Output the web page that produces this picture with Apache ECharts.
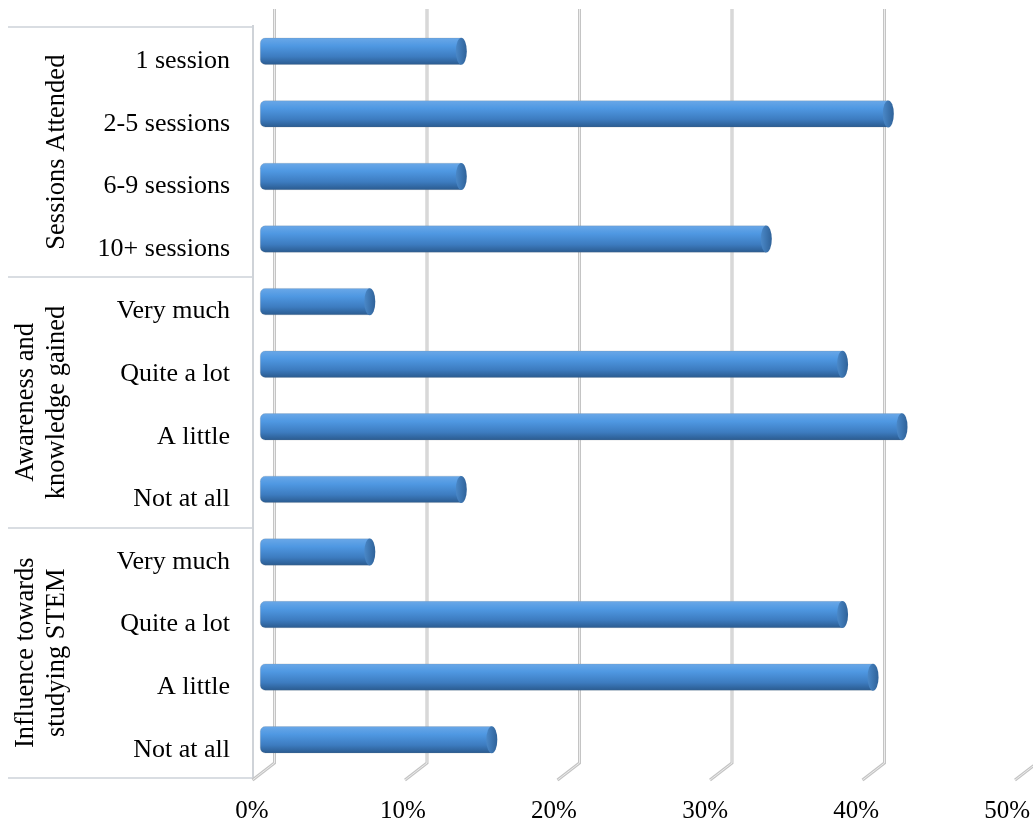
<!DOCTYPE html>
<html>
<head>
<meta charset="utf-8">
<script src="https://cdn.jsdelivr.net/npm/echarts@6/dist/echarts.min.js"></script>
<style>
  html, body { margin: 0; padding: 0; background: #fff; }
  #chart { width: 1033px; height: 825px; }
</style>
</head>
<body>
<div id="chart"></div>
<script>
// categories, top to bottom
const categories = ['1 session', '2-5 sessions', '6-9 sessions', '10+ sessions',
    'Very much', 'Quite a lot', 'A little', 'Not at all',
    'Very much', 'Quite a lot', 'A little', 'Not at all'];
// group captions (4 categories each)
const groups = ['Sessions Attended', 'Awareness and\nknowledge gained', 'Influence towards\nstudying STEM'];
// percentages
const values = [13.2, 41.2, 13.2, 33.2, 7.2, 38.2, 42.1, 13.2, 7.2, 38.2, 40.2, 15.2];
// axis ticks
const ticks = [0, 10, 20, 30, 40, 50];

const FONT = 'Liberation Serif';
let chart = echarts.init(document.getElementById('chart'));

// cylinder body
let barGrad = new echarts.graphic.LinearGradient(0, 0, 0, 1, [
    { offset: 0, color: '#6aa8e8' },
    { offset: 0.3, color: '#4f98e2' },
    { offset: 0.7, color: '#3d7cc0' },
    { offset: 1, color: '#2a5a8e' }
]);
let capGrad = new echarts.graphic.LinearGradient(0, 0, 1, 0, [
    { offset: 0, color: '#4a88c8' },
    { offset: 1, color: '#2f6299' }
]);

// table lines on the left + group captions
let graphics = [];
[27, 277, 528, 778].forEach(function (y) {
    graphics.push({
        type: 'line', shape: { x1: 8, y1: y, x2: 253, y2: y },
        style: { stroke: '#d9dde2', lineWidth: 2 }, z: 1
    });
});
graphics.push({
    type: 'line', shape: { x1: 253, y1: 25, x2: 253, y2: 780 },
    style: { stroke: '#cfd3d8', lineWidth: 2 }, z: 1
});
groups.forEach(function (g, i) {
    graphics.push({
        type: 'text',
        x: 42 + (g.indexOf('\n') < 0 ? 15 : 0),
        y: 27 + 250.3 * (i + 0.5),
        rotation: Math.PI / 2,
        style: {
            text: g, font: '26.5px "' + FONT + '"', fill: '#000',
            align: 'center', verticalAlign: 'middle', lineHeight: 31
        }
    });
});

let option = {
    animation: false,
    backgroundColor: '#fff',
    grid: [
        { left: 252, width: 762.5, top: 30, height: 751 },   // labels (front plane)
        { left: 260, width: 762.5, top: 20, height: 751 }    // bars
    ],
    xAxis: [
        {
            gridIndex: 0, type: 'value', min: 0, max: 50, interval: 10,
            axisLine: { show: false }, axisTick: { show: false }, splitLine: { show: false },
            axisLabel: {
                margin: 18, color: '#000', fontFamily: FONT, fontSize: 25,
                formatter: function (v) { return v + '%'; }
            }
        },
        {
            gridIndex: 1, type: 'value', min: 0, max: 50, interval: 10,
            axisLine: { show: false }, axisTick: { show: false }, splitLine: { show: false },
            axisLabel: { show: false }
        }
    ],
    yAxis: [
        {
            gridIndex: 0, type: 'category', data: categories, inverse: true,
            axisLine: { show: false }, axisTick: { show: false },
            axisLabel: { margin: 22, color: '#000', fontFamily: FONT, fontSize: 26 }
        },
        {
            gridIndex: 1, type: 'category', data: categories, inverse: true, show: false
        }
    ],
    series: [
        {
            // 3D walls: back gridlines + floor slants
            type: 'custom',
            xAxisIndex: 1, yAxisIndex: 1,
            data: ticks.map(function (t) { return [t]; }),
            z: 1,
            silent: true,
            renderItem: function (params, api) {
                let x = api.coord([api.value(0), 0])[0];
                let xb = x + 14.5;
                return {
                    type: 'group',
                    children: [
                        {
                            type: 'polyline',
                            shape: { points: [[xb, 9], [xb, 763], [xb - 22, 780]] },
                            style: { stroke: '#c4c4c4', lineWidth: 3, fill: null }
                        },
                        {
                            type: 'polyline',
                            shape: { points: [[xb, 9], [xb, 763], [xb - 22, 780]] },
                            style: { stroke: '#ececec', lineWidth: 1, fill: null }
                        }
                    ]
                };
            }
        },
        {
            type: 'bar',
            xAxisIndex: 1, yAxisIndex: 1,
            data: values,
            barWidth: 27,
            z: 3,
            itemStyle: {
                color: barGrad,
                borderRadius: [5, 0, 0, 5],
                borderColor: 'rgba(120,130,140,0.35)',
                borderWidth: 0.6
            }
        },
        {
            type: 'scatter',
            xAxisIndex: 1, yAxisIndex: 1,
            data: values.map(function (v, i) { return [v, i]; }),
            symbol: 'circle',
            symbolSize: [11, 27],
            z: 4,
            itemStyle: { color: capGrad, opacity: 1 }
        }
    ],
    graphic: graphics
};
chart.setOption(option);
</script>
</body>
</html>
